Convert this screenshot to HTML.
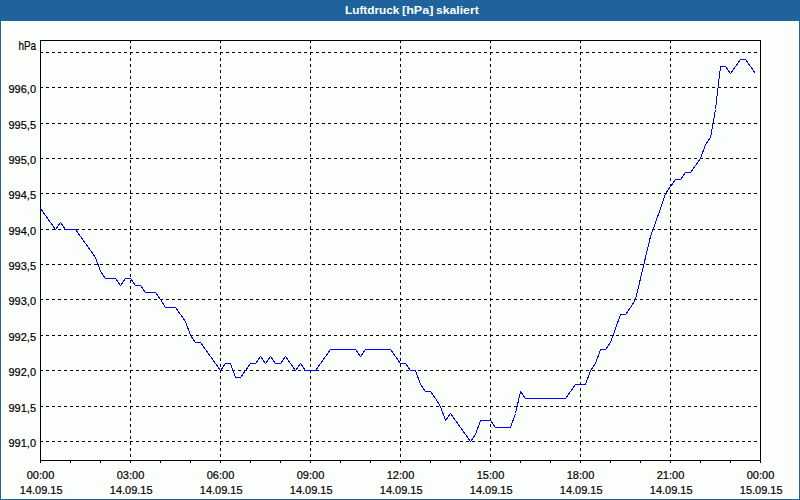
<!DOCTYPE html>
<html><head><meta charset="utf-8"><title>Luftdruck [hPa] skaliert</title>
<style>
html,body{margin:0;padding:0;}
body{width:800px;height:500px;overflow:hidden;background:#1d6299;font-family:"Liberation Sans",sans-serif;position:relative;}
#inner{position:absolute;left:1px;top:21px;width:798px;height:478px;background:#fcfefc;}
#title{position:absolute;left:0;top:0;width:800px;height:21px;color:#fff;font-weight:bold;font-size:11px;line-height:21px;}
#title span{position:absolute;top:0px;white-space:nowrap;transform-origin:0 0;}
#t1{left:344.7px;transform:scaleX(1.07);}#t2{left:401.8px;transform:scaleX(1.14);}#t3{left:436.2px;transform:scaleX(1.108);}
svg{position:absolute;left:0;top:0;}
svg text{font-family:"Liberation Sans",sans-serif;font-size:11px;fill:#000;stroke:#000;stroke-width:0.2px;}
</style></head><body>
<svg width="800" height="500" viewBox="0 0 800 500" shape-rendering="crispEdges"><defs><pattern id="dz" width="4" height="4" patternUnits="userSpaceOnUse"><rect x="1" y="0" width="1" height="1" fill="#2367ad"/><rect x="3" y="2" width="1" height="1" fill="#2367ad"/></pattern></defs><rect x="0" y="0" width="800" height="500" fill="url(#dz)"/></svg>
<div id="inner"></div>
<div id="title"><span id="t1">Luftdruck</span><span id="t2">[hPa]</span><span id="t3">skaliert</span></div>
<svg width="800" height="500" viewBox="0 0 800 500">
<g stroke="#000" stroke-width="1" stroke-dasharray="3 3" shape-rendering="crispEdges" fill="none">
<line x1="40" y1="52.5" x2="761" y2="52.5"/>
<line x1="40" y1="87.5" x2="761" y2="87.5"/>
<line x1="40" y1="123.5" x2="761" y2="123.5"/>
<line x1="40" y1="158.5" x2="761" y2="158.5"/>
<line x1="40" y1="193.5" x2="761" y2="193.5"/>
<line x1="40" y1="229.5" x2="761" y2="229.5"/>
<line x1="40" y1="264.5" x2="761" y2="264.5"/>
<line x1="40" y1="299.5" x2="761" y2="299.5"/>
<line x1="40" y1="335.5" x2="761" y2="335.5"/>
<line x1="40" y1="370.5" x2="761" y2="370.5"/>
<line x1="40" y1="406.5" x2="761" y2="406.5"/>
<line x1="40" y1="441.5" x2="761" y2="441.5"/>
<line x1="130.5" y1="40" x2="130.5" y2="461"/>
<line x1="220.5" y1="40" x2="220.5" y2="461"/>
<line x1="310.5" y1="40" x2="310.5" y2="461"/>
<line x1="400.5" y1="40" x2="400.5" y2="461"/>
<line x1="490.5" y1="40" x2="490.5" y2="461"/>
<line x1="580.5" y1="40" x2="580.5" y2="461"/>
<line x1="670.5" y1="40" x2="670.5" y2="461"/>
</g>
<g stroke="#000" stroke-width="1" shape-rendering="crispEdges" fill="none">
<rect x="40.5" y="40.5" width="720" height="420"/>
<line x1="40.5" y1="461" x2="40.5" y2="463"/>
<line x1="70.5" y1="461" x2="70.5" y2="463"/>
<line x1="100.5" y1="461" x2="100.5" y2="463"/>
<line x1="130.5" y1="461" x2="130.5" y2="463"/>
<line x1="160.5" y1="461" x2="160.5" y2="463"/>
<line x1="190.5" y1="461" x2="190.5" y2="463"/>
<line x1="220.5" y1="461" x2="220.5" y2="463"/>
<line x1="250.5" y1="461" x2="250.5" y2="463"/>
<line x1="280.5" y1="461" x2="280.5" y2="463"/>
<line x1="310.5" y1="461" x2="310.5" y2="463"/>
<line x1="340.5" y1="461" x2="340.5" y2="463"/>
<line x1="370.5" y1="461" x2="370.5" y2="463"/>
<line x1="400.5" y1="461" x2="400.5" y2="463"/>
<line x1="430.5" y1="461" x2="430.5" y2="463"/>
<line x1="460.5" y1="461" x2="460.5" y2="463"/>
<line x1="490.5" y1="461" x2="490.5" y2="463"/>
<line x1="520.5" y1="461" x2="520.5" y2="463"/>
<line x1="550.5" y1="461" x2="550.5" y2="463"/>
<line x1="580.5" y1="461" x2="580.5" y2="463"/>
<line x1="610.5" y1="461" x2="610.5" y2="463"/>
<line x1="640.5" y1="461" x2="640.5" y2="463"/>
<line x1="670.5" y1="461" x2="670.5" y2="463"/>
<line x1="700.5" y1="461" x2="700.5" y2="463"/>
<line x1="730.5" y1="461" x2="730.5" y2="463"/>
<line x1="760.5" y1="461" x2="760.5" y2="463"/>
</g>
<polyline points="40.5,208.5 45.5,215.5 50.5,222.5 55.5,229.5 60.5,222.5 65.5,229.5 70.5,229.5 75.5,229.5 80.5,236.5 85.5,243.5 90.5,250.5 95.5,257.5 100.5,271.5 105.5,278.5 110.5,278.5 115.5,278.5 120.5,285.5 125.5,278.5 130.5,278.5 135.5,285.5 140.5,285.5 145.5,292.5 150.5,292.5 155.5,292.5 160.5,299.5 165.5,307.5 170.5,307.5 175.5,307.5 180.5,314.5 185.5,321.5 190.5,335.5 195.5,342.5 200.5,342.5 205.5,349.5 210.5,356.5 215.5,363.5 220.5,370.5 225.5,363.5 230.5,363.5 235.5,377.5 240.5,377.5 245.5,370.5 250.5,363.5 255.5,363.5 260.5,356.5 265.5,363.5 270.5,356.5 275.5,363.5 280.5,363.5 285.5,356.5 290.5,363.5 295.5,370.5 300.5,363.5 305.5,370.5 310.5,370.5 315.5,370.5 320.5,363.5 325.5,356.5 330.5,349.5 335.5,349.5 340.5,349.5 345.5,349.5 350.5,349.5 355.5,349.5 360.5,356.5 365.5,349.5 370.5,349.5 375.5,349.5 380.5,349.5 385.5,349.5 390.5,349.5 395.5,356.5 400.5,363.5 405.5,363.5 410.5,370.5 415.5,370.5 420.5,384.5 425.5,391.5 430.5,391.5 435.5,398.5 440.5,406.5 445.5,420.5 450.5,413.5 455.5,420.5 460.5,427.5 465.5,434.5 470.5,441.5 475.5,434.5 480.5,420.5 485.5,420.5 490.5,420.5 495.5,427.5 500.5,427.5 505.5,427.5 510.5,427.5 515.5,413.5 520.5,391.5 525.5,398.5 530.5,398.5 535.5,398.5 540.5,398.5 545.5,398.5 550.5,398.5 555.5,398.5 560.5,398.5 565.5,398.5 570.5,391.5 575.5,384.5 580.5,384.5 585.5,384.5 590.5,370.5 595.5,363.5 600.5,349.5 605.5,349.5 610.5,342.5 615.5,328.5 620.5,314.5 625.5,314.5 630.5,307.5 635.5,299.5 640.5,278.5 645.5,257.5 650.5,236.5 655.5,222.5 660.5,208.5 665.5,193.5 670.5,186.5 675.5,179.5 680.5,179.5 685.5,172.5 690.5,172.5 695.5,165.5 700.5,158.5 705.5,144.5 710.5,137.5 715.5,109.5 720.5,66.5 725.5,66.5 730.5,73.5 735.5,66.5 740.5,59.5 745.5,59.5 750.5,66.5 755.5,73.5" fill="none" stroke="#0000ff" stroke-width="1" shape-rendering="crispEdges" stroke-linejoin="miter"/>
<g text-anchor="end">
<text transform="translate(36,49.7) scale(0.9,1.12)" x="0" y="0">hPa</text>
<text x="36" y="93">996,0</text>
<text x="36" y="129">995,5</text>
<text x="36" y="164">995,0</text>
<text x="36" y="199">994,5</text>
<text x="36" y="235">994,0</text>
<text x="36" y="270">993,5</text>
<text x="36" y="305">993,0</text>
<text x="36" y="341">992,5</text>
<text x="36" y="376">992,0</text>
<text x="36" y="412">991,5</text>
<text x="36" y="447">991,0</text>
</g>
<g text-anchor="middle">
<text x="40.5" y="479">00:00</text>
<text x="41.2" y="494">14.09.15</text>
<text x="130.5" y="479">03:00</text>
<text x="131.2" y="494">14.09.15</text>
<text x="220.5" y="479">06:00</text>
<text x="221.2" y="494">14.09.15</text>
<text x="310.5" y="479">09:00</text>
<text x="311.2" y="494">14.09.15</text>
<text x="400.5" y="479">12:00</text>
<text x="401.2" y="494">14.09.15</text>
<text x="490.5" y="479">15:00</text>
<text x="491.2" y="494">14.09.15</text>
<text x="580.5" y="479">18:00</text>
<text x="581.2" y="494">14.09.15</text>
<text x="670.5" y="479">21:00</text>
<text x="671.2" y="494">14.09.15</text>
<text x="760.5" y="479">00:00</text>
<text x="761.2" y="494">15.09.15</text>
</g>
</svg>
</body></html>
